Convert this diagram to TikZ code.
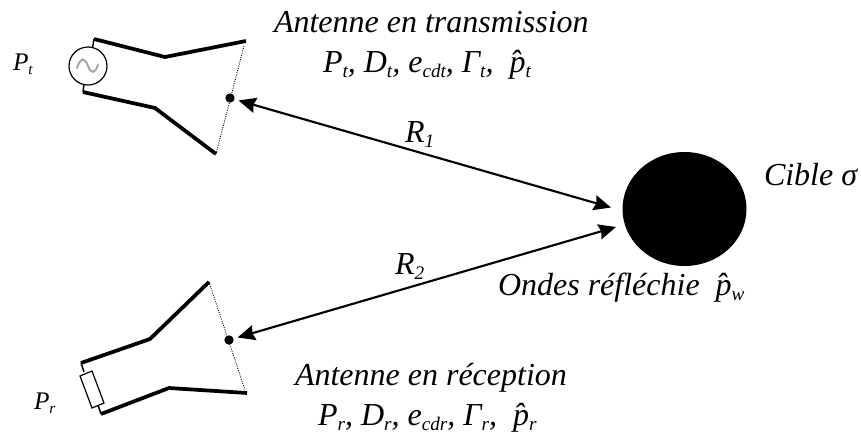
\documentclass[tikz,border=0pt]{standalone}
\usepackage{fontspec}
\setmainfont{Liberation Serif}
\usetikzlibrary{arrows.meta,shapes.geometric}
\newcommand{\low}[1]{\raisebox{-0.35ex}{\fontsize{0.6em}{1em}\selectfont #1}}
\newcommand{\phat}{\^{p}}
\tikzset{
  label text/.style={font=\fontsize{24pt}{26pt}\selectfont\itshape, anchor=base west, inner sep=0pt, outer sep=0pt, text=black},
  small text/.style={font=\fontsize{19pt}{21pt}\selectfont\itshape, anchor=base west, inner sep=0pt, outer sep=0pt, text=black},
  horn/.style={line width=2.8pt, line join=miter, line cap=butt},
  aperture/.style={line width=0.7pt, densely dotted},
  thin wire/.style={line width=1.1pt},
  feed dot/.style={circle, fill=black, inner sep=0pt, minimum size=7pt},
  link/.style={line width=1.6pt, {Stealth[length=13pt,width=11.5pt,inset=1.5pt]}-{Stealth[length=13pt,width=11.5pt,inset=1.5pt]}},
}
\begin{document}
\begin{tikzpicture}[x=0.75pt,y=-0.75pt]
\useasboundingbox (0,0) rectangle (861,433);
% top antenna
\draw[horn] (94,39) -- (165,57) -- (246,41);
\draw[horn] (83,92) -- (155,108) -- (216,154);
\draw[aperture] (244,46) -- (216,154);
\node[circle, draw, line width=0.9pt, fill=white, minimum size=28.5pt, inner sep=0pt] (gen) at (88,66) {};
\draw[thin wire] (94,39) -- (92.5,48);
\draw[thin wire] (83,92) -- (84,84);
\draw[gray!70, line width=1.5pt, line cap=round] (77,68) .. controls (81,56) and (85,58) .. (88,66) .. controls (91,74) and (95,74) .. (98,65);
\node[feed dot] (dt) at (230,98) {};
% bottom antenna
\draw[horn] (81,363) -- (150,339) -- (209,282);
\draw[horn] (101,414) -- (169,388) -- (247,393);
\draw[aperture] (209,282) -- (245,390);
\draw[thin wire] (81,363) -- (84,372);
\draw[thin wire] (98,405) -- (101,414);
\draw[line width=0.9pt, fill=white] (80,376) -- (92,371) -- (104,403) -- (92,408) -- cycle;
\node[feed dot] (dr) at (229,340) {};
% target
\node[ellipse, fill=black, minimum width=93pt, minimum height=85.5pt, inner sep=0pt] (cible) at (684.5,209) {};
\coordinate (ct) at (611,207.5);
\coordinate (cr) at (616,227);
% links
\draw[link, shorten <=3pt] (dt) -- (ct);
\draw[link, shorten <=3pt] (dr) -- (cr);
% texts
\node[label text] (a1) at (274,32) {Antenne en transmission};
\node[label text] (a2) at (323,72) {P\low{t}, D\low{t}, e\low{cdt}, Γ\low{t},\ \ \phat\low{t}};
\node[label text] (b1) at (295,385) {Antenne en réception};
\node[label text] (b2) at (318,425) {P\low{r}, D\low{r}, e\low{cdr}, Γ\low{r},\ \ \phat\low{r}};
\node[label text] (c1) at (764,185) {Cible σ};
\node[label text] (c2) at (498,295) {Ondes réfléchie\ \ \phat\low{w}};
\node[label text] (r1) at (405,142) {R\low{1}};
\node[label text] (r2) at (395,274) {R\low{2}};
\node[small text] (pt) at (13,70) {P\low{t}};
\node[small text] (pr) at (34,409) {P\low{r}};
\end{tikzpicture}
\end{document}
